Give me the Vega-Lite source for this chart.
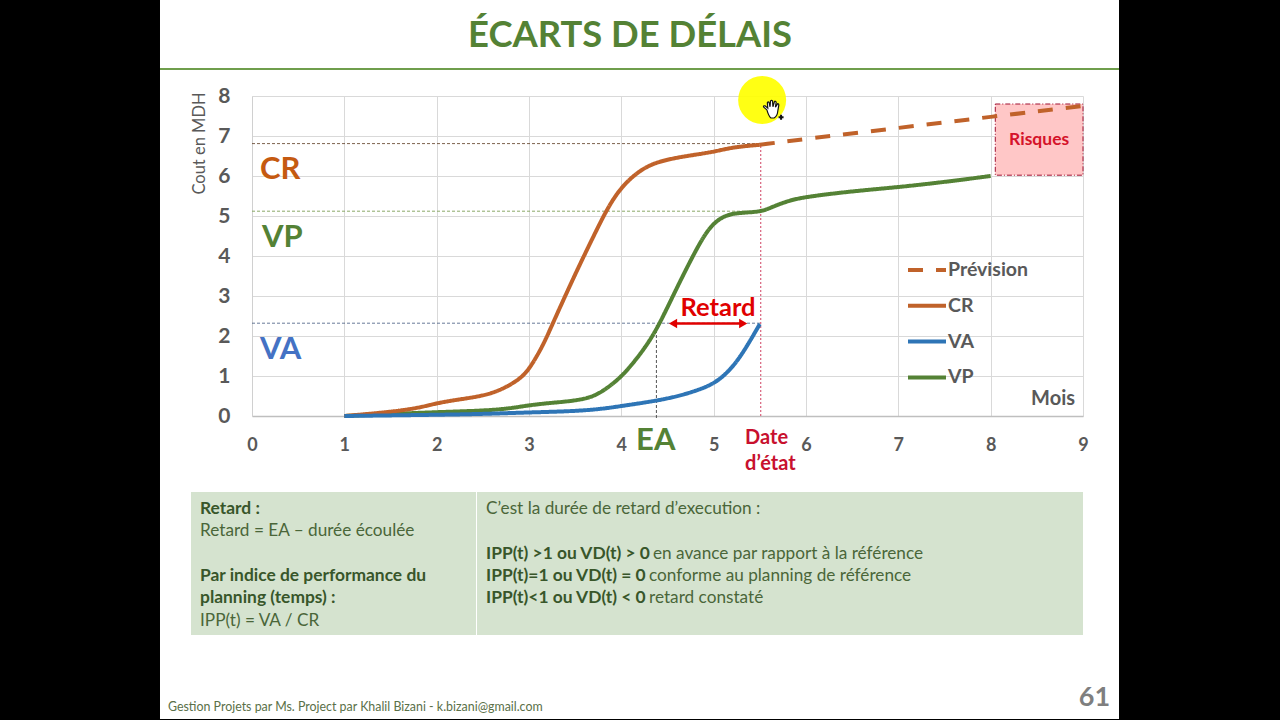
{
"$schema":"https://vega.github.io/schema/vega-lite/v6.json",
"autosize":"none","width":831,"height":320,
"padding":{"left":252,"top":96,"right":197,"bottom":304},
"background":"#ffffff",
"config":{"font":"Lato","view":{"stroke":null}},
"encoding":{
"x":{"field":"x","type":"quantitative","scale":{"domain":[0,9],"nice":false,"zero":false},"title":null,
"axis":{"values":[0,1,2,3,4,5,6,7,8,9],"format":"d","ticks":false,"grid":true,"gridColor":"#d9d9d9","gridWidth":1,"domainColor":"#bfbfbf","domainWidth":1.5,"labelColor":"#595959","labelFont":"Lato","labelFontWeight":"bold","labelFontSize":18,"labelPadding":20,"labelFlush":false,"labelOverlap":false}},
"y":{"field":"y","type":"quantitative","scale":{"domain":[0,8],"nice":false,"zero":false},"title":"Cout en MDH",
"axis":{"values":[0,1,2,3,4,5,6,7,8],"format":"d","ticks":false,"grid":true,"gridColor":"#d9d9d9","gridWidth":1,"domainColor":"#d0d0d0","domainWidth":1,"labelColor":"#595959","labelFont":"Lato","labelFontWeight":"bold","labelFontSize":21,"labelPadding":22,"labelFlush":false,"labelOverlap":false,"titleFont":"Lato","titleFontSize":16.5,"titleFontWeight":"normal","titleColor":"#595959","titleX":-53,"titleY":47,"titleAlign":"center","titleBaseline":"middle"}}
},
"layer":[
{"data":{"values":[{"x":-2.74,"x2":-0.9964,"y":10.4,"y2":-7.6},{"x":9.39,"x2":11.2,"y":10.4,"y2":-7.6},{"x":-2.74,"x2":11.2,"y":-7.575,"y2":-7.6}]},
"mark":{"type":"rect","color":"#000000"},"encoding":{"x2":{"field":"x2"},"y2":{"field":"y2"}}},
{"data":{"values":[{"x":-0.9964,"x2":9.39,"y":8.675}]},"mark":{"type":"rule","color":"#6f9e4c","strokeWidth":2},"encoding":{"x2":{"field":"x2"}}},
{"data":{"values":[{"x":4.094,"y":9.5,"t":"ÉCARTS DE DÉLAIS"}]},"mark":{"type":"text","align":"center","baseline":"middle","fontSize":36.4,"fontWeight":"bold","color":"#548235","font":"Lato"},"encoding":{"text":{"field":"t"}}},
{"data":{"values":[{"x":-0.6607,"x2":2.426,"y":-1.9,"y2":-5.475},{"x":2.437,"x2":9,"y":-1.9,"y2":-5.475}]},
"mark":{"type":"rect","color":"#d5e3cf"},"encoding":{"x2":{"field":"x2"},"y2":{"field":"y2"}}},
{"data":{"values":[{"x":8.05,"x2":9,"y":7.8,"y2":6.02}]},
"mark":{"type":"rect","fill":"#ffc7c7","stroke":"#a01030","strokeWidth":1,"strokeDash":[5,2,1,2]},"encoding":{"x2":{"field":"x2"},"y2":{"field":"y2"}}},
{"data":{"values":[{"x":0,"x2":5.5,"y":6.81}]},"mark":{"type":"rule","color":"#5a3a20","strokeWidth":1,"strokeDash":[3,2],"opacity":0.8},"encoding":{"x2":{"field":"x2"}}},
{"data":{"values":[{"x":0,"x2":5.5,"y":5.12}]},"mark":{"type":"rule","color":"#8aa868","strokeWidth":1,"strokeDash":[3,2]},"encoding":{"x2":{"field":"x2"}}},
{"data":{"values":[{"x":0,"x2":5.51,"y":2.32}]},"mark":{"type":"rule","color":"#445a80","strokeWidth":1,"strokeDash":[3,2],"opacity":0.8},"encoding":{"x2":{"field":"x2"}}},
{"data":{"values":[{"x":5.51,"y":0,"y2":6.78}]},"mark":{"type":"rule","color":"#d04060","strokeWidth":1,"strokeDash":[2,2]},"encoding":{"y2":{"field":"y2"}}},
{"data":{"values":[{"x":4.38,"y":-0.05,"y2":2.32}]},"mark":{"type":"rule","color":"#555555","strokeWidth":1,"strokeDash":[3,2]},"encoding":{"y2":{"field":"y2"}}},
{"data":{"values":[{"x":4.55,"x2":5.33,"y":2.31}]},"mark":{"type":"rule","color":"#e00000","strokeWidth":2.5},"encoding":{"x2":{"field":"x2"}}},
{"data":{"values":[{"x":4.56,"y":2.31}]},"mark":{"type":"point","shape":"triangle-left","filled":true,"color":"#e00000","size":90,"opacity":1}},
{"data":{"values":[{"x":5.32,"y":2.31}]},"mark":{"type":"point","shape":"triangle-right","filled":true,"color":"#e00000","size":90,"opacity":1}},
{"data":{"values":[
{"s":"VP","x":1,"y":0},{"s":"VP","x":2,"y":0.1},{"s":"VP","x":2.5,"y":0.13},{"s":"VP","x":2.8,"y":0.19},{"s":"VP","x":3,"y":0.27},{"s":"VP","x":3.2,"y":0.32},{"s":"VP","x":3.5,"y":0.38},{"s":"VP","x":3.7,"y":0.48},{"s":"VP","x":3.85,"y":0.7},{"s":"VP","x":4,"y":0.98},{"s":"VP","x":4.15,"y":1.38},{"s":"VP","x":4.3,"y":1.85},{"s":"VP","x":4.42,"y":2.33},{"s":"VP","x":4.6,"y":3.2},{"s":"VP","x":4.8,"y":4.12},{"s":"VP","x":4.95,"y":4.72},{"s":"VP","x":5.1,"y":5.0},{"s":"VP","x":5.25,"y":5.08},{"s":"VP","x":5.5,"y":5.1},{"s":"VP","x":5.6,"y":5.19},{"s":"VP","x":5.8,"y":5.38},{"s":"VP","x":6,"y":5.48},{"s":"VP","x":6.5,"y":5.62},{"s":"VP","x":7,"y":5.72},{"s":"VP","x":7.5,"y":5.85},{"s":"VP","x":8,"y":6.0},
{"s":"CR","x":1,"y":0},{"s":"CR","x":1.5,"y":0.1},{"s":"CR","x":1.8,"y":0.2},{"s":"CR","x":2,"y":0.32},{"s":"CR","x":2.2,"y":0.4},{"s":"CR","x":2.5,"y":0.5},{"s":"CR","x":2.7,"y":0.65},{"s":"CR","x":2.9,"y":0.92},{"s":"CR","x":3,"y":1.16},{"s":"CR","x":3.15,"y":1.75},{"s":"CR","x":3.26,"y":2.33},{"s":"CR","x":3.5,"y":3.55},{"s":"CR","x":3.7,"y":4.5},{"s":"CR","x":3.85,"y":5.2},{"s":"CR","x":4,"y":5.73},{"s":"CR","x":4.2,"y":6.15},{"s":"CR","x":4.4,"y":6.37},{"s":"CR","x":4.7,"y":6.5},{"s":"CR","x":5,"y":6.6},{"s":"CR","x":5.2,"y":6.72},{"s":"CR","x":5.5,"y":6.78},
{"s":"Prévision","x":5.5,"y":6.78},{"s":"Prévision","x":6,"y":6.93},{"s":"Prévision","x":7,"y":7.2},{"s":"Prévision","x":8,"y":7.48},{"s":"Prévision","x":9,"y":7.75},
{"s":"VA","x":1,"y":0},{"s":"VA","x":2,"y":0.03},{"s":"VA","x":2.5,"y":0.05},{"s":"VA","x":3,"y":0.09},{"s":"VA","x":3.5,"y":0.12},{"s":"VA","x":3.8,"y":0.18},{"s":"VA","x":4,"y":0.25},{"s":"VA","x":4.5,"y":0.42},{"s":"VA","x":4.8,"y":0.62},{"s":"VA","x":5,"y":0.8},{"s":"VA","x":5.15,"y":1.08},{"s":"VA","x":5.3,"y":1.5},{"s":"VA","x":5.5,"y":2.3}
]},
"mark":{"type":"line","interpolate":"basis","strokeWidth":4},
"encoding":{
"order":{"field":"x","type":"quantitative"},
"color":{"field":"s","type":"nominal","scale":{"domain":["Prévision","CR","VA","VP"],"range":["#c0622a","#c0622a","#2e75b6","#548235"]},
"legend":{"orient":"none","legendX":654,"legendY":153,"title":null,"symbolType":"stroke","symbolSize":1444,"symbolStrokeWidth":4,"labelFont":"Lato","labelFontSize":19.5,"labelColor":"#595959","labelFontWeight":"bold","labelOffset":0,"rowPadding":4.8}},
"strokeDash":{"field":"s","type":"nominal","scale":{"domain":["Prévision","CR","VA","VP"],"range":[[15,13],[1,0],[1,0],[1,0]]}}
}},
{"data":{"values":[{"x":0.087,"y":6.15,"t":"CR"}]},"mark":{"type":"text","align":"left","baseline":"middle","fontSize":31,"fontWeight":"bold","color":"#c55a11","font":"Lato"},"encoding":{"text":{"field":"t"}}},
{"data":{"values":[{"x":0.108,"y":4.45,"t":"VP"},{"x":4.16,"y":-0.625,"t":"EA"}]},"mark":{"type":"text","align":"left","baseline":"middle","fontSize":31,"fontWeight":"bold","color":"#548235","font":"Lato"},"encoding":{"text":{"field":"t"}}},
{"data":{"values":[{"x":0.087,"y":1.65,"t":"VA"}]},"mark":{"type":"text","align":"left","baseline":"middle","fontSize":31,"fontWeight":"bold","color":"#4472c4","font":"Lato"},"encoding":{"text":{"field":"t"}}},
{"data":{"values":[{"x":5.34,"y":-0.55,"t":"Date"},{"x":5.34,"y":-1.2,"t":"d’état"}]},"mark":{"type":"text","align":"left","baseline":"middle","fontSize":20,"fontWeight":"bold","color":"#c8102e","font":"Lato"},"encoding":{"text":{"field":"t"}}},
{"data":{"values":[{"x":5.047,"y":2.7,"t":"Retard"}]},"mark":{"type":"text","align":"center","baseline":"middle","fontSize":25.5,"fontWeight":"bold","color":"#e00000","font":"Lato"},"encoding":{"text":{"field":"t"}}},
{"data":{"values":[{"x":8.525,"y":6.9,"t":"Risques"}]},"mark":{"type":"text","align":"center","baseline":"middle","fontSize":17.5,"fontWeight":"bold","color":"#d5132a","font":"Lato"},"encoding":{"text":{"field":"t"}}},
{"data":{"values":[{"x":8.914,"y":0.43,"t":"Mois"}]},"mark":{"type":"text","align":"right","baseline":"middle","fontSize":20,"fontWeight":"bold","color":"#595959","font":"Lato"},"encoding":{"text":{"field":"t"}}},
{"data":{"values":[{"x":-0.563,"y":-2.325,"t":"Retard :"},{"x":-0.563,"y":-4.0,"t":"Par indice de performance du"},{"x":-0.563,"y":-4.55,"t":"planning (temps) :"},{"x":2.534,"y":-3.45,"t":"IPP(t) >1 ou VD(t) > 0"},{"x":2.534,"y":-4.0,"t":"IPP(t)=1 ou VD(t) = 0"},{"x":2.534,"y":-4.55,"t":"IPP(t)<1 ou VD(t) < 0"}]},"mark":{"type":"text","align":"left","baseline":"middle","fontSize":17.4,"fontWeight":"bold","color":"#38562a","font":"Lato"},"encoding":{"text":{"field":"t"}}},
{"data":{"values":[{"x":-0.563,"y":-2.875,"t":"Retard = EA – durée écoulée"},{"x":-0.563,"y":-5.125,"t":"IPP(t) = VA / CR"},{"x":2.534,"y":-2.325,"t":"C’est la durée de retard d’execution :"},{"x":4.343,"y":-3.45,"t":"en avance par rapport à la référence"},{"x":4.3,"y":-4.0,"t":"conforme au planning de référence"},{"x":4.3,"y":-4.55,"t":"retard constaté"}]},"mark":{"type":"text","align":"left","baseline":"middle","fontSize":17.2,"color":"#4a6639","font":"Lato"},"encoding":{"text":{"field":"t"}}},
{"data":{"values":[{"x":-0.91,"y":-7.275,"t":"Gestion Projets par Ms. Project par Khalil Bizani - k.bizani@gmail.com"}]},"mark":{"type":"text","align":"left","baseline":"middle","fontSize":12.4,"color":"#5a7048","font":"Lato"},"encoding":{"text":{"field":"t"}}},
{"data":{"values":[{"x":9.293,"y":-7.05,"t":"61"}]},"mark":{"type":"text","align":"right","baseline":"middle","fontSize":27,"fontWeight":"bold","color":"#7f7f7f","font":"Lato"},"encoding":{"text":{"field":"t"}}},
{"data":{"values":[{"x":5.525,"y":7.9}]},"mark":{"type":"point","shape":"circle","filled":true,"color":"#ffff00","size":2304,"opacity":0.92}},
{"data":{"values":[{"x":5.63,"y":7.675}]},"mark":{"type":"point","shape":"M -0.55 0.1 L -0.9 -0.2 Q -1 -0.4 -0.75 -0.35 L -0.45 -0.1 L -0.5 -0.7 Q -0.4 -0.9 -0.3 -0.7 L -0.2 -0.25 L -0.15 -0.9 Q -0.02 -1 0.08 -0.9 L 0.12 -0.25 L 0.3 -0.85 Q 0.42 -0.9 0.48 -0.75 L 0.4 -0.2 L 0.65 -0.6 Q 0.78 -0.6 0.78 -0.45 L 0.65 0.3 Q 0.6 0.8 0.25 1 L -0.1 1 Q -0.35 0.8 -0.55 0.1 Z","filled":true,"fill":"#ffffff","stroke":"#111111","strokeWidth":1.2,"size":324,"opacity":1}},
{"data":{"values":[{"x":5.73,"y":7.47}]},"mark":{"type":"point","shape":"cross","filled":true,"color":"#111111","size":25,"opacity":1}}
]
}
